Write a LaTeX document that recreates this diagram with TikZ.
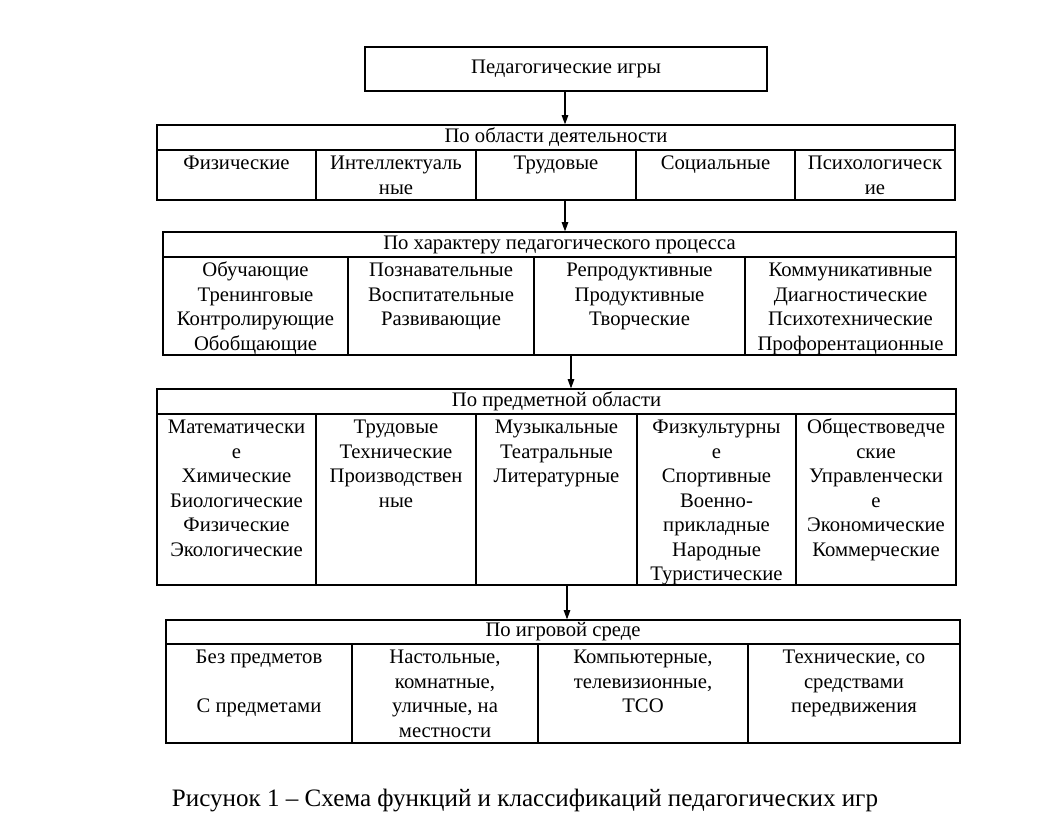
\documentclass[tikz,border=0pt]{standalone}
\usepackage{fontspec}
\setmainfont{Liberation Serif}
\usetikzlibrary{fit,arrows.meta,calc}
\newcommand\cellbox[6]{%
  \node[frame, fit={(#2,#3) (#4,#5)}] (#1) {};
  \node[txt] (#1t) at ($(#1.north)+(0,3)$) {\strut #6};
}
\newcommand\hdrbox[6]{%
  \node[frame, fit={(#2,#3) (#4,#5)}] (#1) {};
  \node[celltext, inner sep=0pt] (#1t) at (#1.center) {#6};
}
\begin{document}
\begin{tikzpicture}[x=0.75pt,y=-0.75pt,
  frame/.style={draw, line width=1pt, inner sep=0pt},
  celltext/.style={font=\fontsize{15.5}{18.4}\selectfont},
  txt/.style={anchor=north, inner sep=0pt, align=center, celltext},
  arr/.style={line width=0.8pt, -{Triangle[length=7pt,width=5pt]}}]
\path[use as bounding box] (0,0) rectangle (1037,818);

% title
\hdrbox{top}{365}{47}{767}{91}{Педагогические игры}

% box 1
\hdrbox{h1}{157}{125}{955}{150}{По области деятельности}
\cellbox{c11}{157}{150}{316}{200}{Физические}
\cellbox{c12}{316}{150}{476}{200}{Интеллектуаль\\ные}
\cellbox{c13}{476}{150}{636}{200}{Трудовые}
\cellbox{c14}{636}{150}{795}{200}{Социальные}
\cellbox{c15}{795}{150}{955}{200}{Психологическ\\ие}
\node[frame, fit={(157,125) (955,200)}] (b1) {};

% box 2
\hdrbox{h2}{163}{232}{956}{257}{По характеру педагогического процесса}
\cellbox{c21}{163}{257}{348}{355}{Обучающие\\Тренинговые\\Контролирующие\\Обобщающие}
\cellbox{c22}{348}{257}{534}{355}{Познавательные\\Воспитательные\\Развивающие}
\cellbox{c23}{534}{257}{745}{355}{Репродуктивные\\Продуктивные\\Творческие}
\cellbox{c24}{745}{257}{956}{355}{Коммуникативные\\Диагностические\\Психотехнические\\Профорентационные}
\node[frame, fit={(163,232) (956,355)}] (b2) {};

% box 3
\hdrbox{h3}{157}{389}{956}{414}{По предметной области}
\cellbox{c31}{157}{414}{316}{585}{Математически\\е\\Химические\\Биологические\\Физические\\Экологические}
\cellbox{c32}{316}{414}{476}{585}{Трудовые\\Технические\\Производствен\\ные}
\cellbox{c33}{476}{414}{637}{585}{Музыкальные\\Театральные\\Литературные}
\cellbox{c34}{637}{414}{796}{585}{Физкультурны\\е\\Спортивные\\Военно-\\прикладные\\Народные\\Туристические}
\cellbox{c35}{796}{414}{956}{585}{Обществоведче\\ские\\Управленчески\\е\\Экономические\\Коммерческие}
\node[frame, fit={(157,389) (956,585)}] (b3) {};

% box 4
\hdrbox{h4}{166}{620}{960}{644}{По игровой среде}
\cellbox{c41}{166}{644}{352}{743}{Без предметов\\\mbox{}\\С предметами}
\cellbox{c42}{352}{644}{538}{743}{Настольные,\\комнатные,\\уличные, на\\местности}
\cellbox{c43}{538}{644}{748}{743}{Компьютерные,\\телевизионные,\\ТСО}
\cellbox{c44}{748}{644}{960}{743}{Технические, со\\средствами\\передвижения}
\node[frame, fit={(166,620) (960,743)}] (b4) {};

% arrows
\coordinate (ax1) at (565,0);
\coordinate (ax2) at (565,0);
\coordinate (ax3) at (571,0);
\coordinate (ax4) at (567,0);
\draw[arr] (top.south -| ax1) -- (b1.north -| ax1);
\draw[arr] (b1.south -| ax2) -- (b2.north -| ax2);
\draw[arr] (b2.south -| ax3) -- (b3.north -| ax3);
\draw[arr] (b3.south -| ax4) -- (b4.north -| ax4);

% caption
\node[font=\fontsize{18.8}{22}\selectfont, inner sep=0pt] (cap) at (525,800) {Рисунок 1 – Схема функций и классификаций педагогических игр};
\end{tikzpicture}
\end{document}
